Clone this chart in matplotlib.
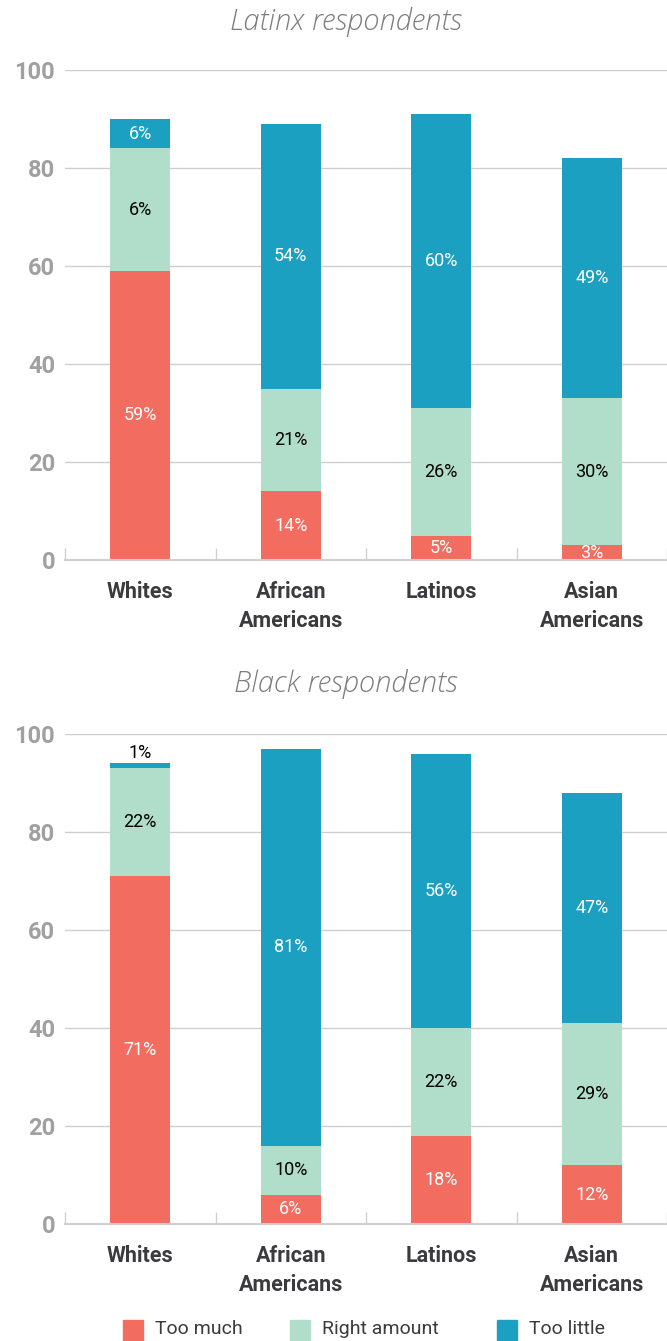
import numpy as np
import matplotlib.pyplot as plt
from matplotlib.patches import Rectangle

GROUPS = ["Whites", "African\nAmericans", "Latinos", "Asian\nAmericans"]
SERIES = ["Too much", "Right amount", "Too little"]
COLORS = ["#F26D60", "#B1DECA", "#1BA0C1"]

# segment heights as drawn (percent)
LATINX_TOO_MUCH = [59, 14, 5, 3]
LATINX_RIGHT = [25, 21, 26, 30]
LATINX_TOO_LITTLE = [6, 54, 60, 49]
LATINX_LABELS = [["59%", "14%", "5%", "3%"],
                 ["6%", "21%", "26%", "30%"],
                 ["6%", "54%", "60%", "49%"]]

BLACK_TOO_MUCH = [71, 6, 18, 12]
BLACK_RIGHT = [22, 10, 22, 29]
BLACK_TOO_LITTLE = [1, 81, 56, 47]
BLACK_LABELS = [["71%", "6%", "18%", "12%"],
                ["22%", "10%", "22%", "29%"],
                ["1%", "81%", "56%", "47%"]]

FONT = "Roboto"
LABEL_COLORS = ["white", "black", "white"]


def draw_panel(ax, values, labels):
    x = np.arange(len(GROUPS))
    bottom = np.zeros(len(GROUPS))
    for i, vals in enumerate(values):
        vals = np.array(vals, dtype=float)
        ax.bar(x, vals, bottom=bottom, width=0.4, color=COLORS[i], zorder=3)
        for j, v in enumerate(vals):
            if v < 3:
                # thin segment: label sits above the bar
                ax.text(x[j], bottom[j] + v + 0.3, labels[i][j], ha="center", va="bottom",
                        fontsize=13, color="black", family=FONT, zorder=4)
            else:
                ax.text(x[j], bottom[j] + v / 2, labels[i][j], ha="center", va="center",
                        fontsize=13, color=LABEL_COLORS[i], family=FONT, zorder=4)
        bottom += vals

    ax.set_xlim(-0.5, 3.5)
    ax.set_ylim(0, 100)
    ax.set_yticks([0, 20, 40, 60, 80, 100])
    ax.set_yticklabels(["0", "20", "40", "60", "80", "100"], fontsize=17,
                       fontweight="bold", color="#A0A0A0", family=FONT)
    ax.set_xticks(x)
    ax.set_xticklabels(GROUPS, fontsize=15.5, fontweight="bold", color="#3A3A3F",
                       family=FONT, linespacing=1.4, va="top")
    ax.tick_params(axis="x", length=0, pad=15)
    ax.tick_params(axis="y", length=0, pad=7)
    ax.set_xticks([-0.5, 0.5, 1.5, 2.5, 3.5], minor=True)
    ax.tick_params(axis="x", which="minor", direction="in", length=9, color="#D0D0D0", width=1)
    ax.grid(axis="y", color="#CFCFCF", lw=1, zorder=0)
    for s in ["top", "right", "left"]:
        ax.spines[s].set_visible(False)
    ax.spines["bottom"].set_color("#D0D0D0")
    ax.spines["bottom"].set_linewidth(1.5)
    ax.spines["bottom"].set_zorder(5)


fig = plt.figure(figsize=(6.67, 13.41), dpi=100)
H = 1341.0
W = 667.0
ax1 = fig.add_axes([65 / W, (H - 560) / H, 602 / W, 490 / H])
ax2 = fig.add_axes([65 / W, (H - 1224) / H, 602 / W, 490 / H])

draw_panel(ax1, [LATINX_TOO_MUCH, LATINX_RIGHT, LATINX_TOO_LITTLE], LATINX_LABELS)
draw_panel(ax2, [BLACK_TOO_MUCH, BLACK_RIGHT, BLACK_TOO_LITTLE], BLACK_LABELS)

fig.text(346 / W, 1 - 22 / H, "Latinx respondents", ha="center", va="center", fontsize=21,
         style="italic", fontweight="light", color="#7E7E7E", family="Open Sans")
fig.text(346 / W, 1 - 684 / H, "Black respondents", ha="center", va="center", fontsize=21,
         style="italic", fontweight="light", color="#7E7E7E", family="Open Sans")

# legend
leg_x = [123, 290, 497]
for lx, name, c in zip(leg_x, SERIES, COLORS):
    fig.patches.append(Rectangle((lx / W, 1 - 1341 / H), 20 / W, 21 / H,
                                 transform=fig.transFigure, color=c))
    fig.text((lx + 32) / W, 1 - 1329 / H, name, ha="left", va="center", fontsize=14,
             color="#3A3A3F", family=FONT)

fig.savefig("out.png", dpi=100)
